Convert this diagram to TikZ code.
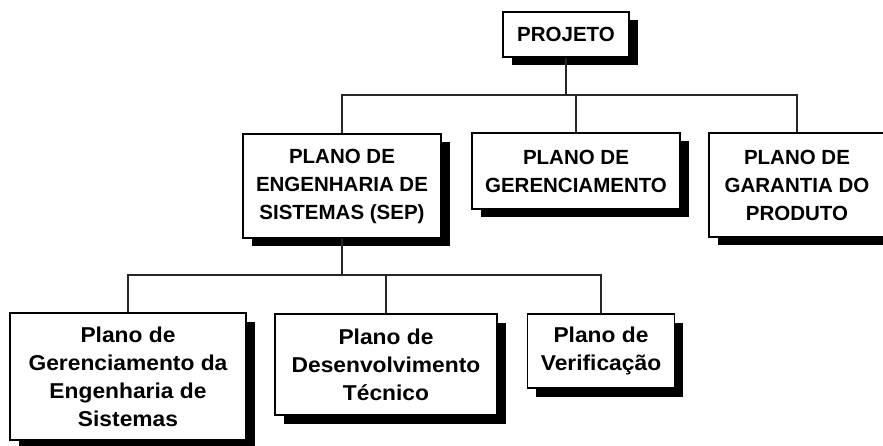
\documentclass[tikz,border=0pt]{standalone}
\usepackage{fontspec}
\setmainfont{Liberation Sans}
\newfontfamily\lowfont[FakeStretch=1.06]{Liberation Sans}
\usetikzlibrary{shadows}
\tikzset{
  box/.style={draw=black, line width=1.3pt, fill=white, inner sep=0pt, align=center,
    text=black, font=\bfseries\fontsize{20.5}{28}\selectfont,
    drop shadow={shadow xshift=8.5pt, shadow yshift=-8.5pt, fill=black, opacity=1}},
  lowbox/.style={box, font=\lowfont\bfseries\fontsize{21.5}{28}\selectfont},
  conn/.style={line width=1.3pt, draw=black!85}
}
\begin{document}
\begin{tikzpicture}[x=1pt,y=-1pt]
\useasboundingbox (0,0) rectangle (883,446);
\clip (0,0) rectangle (883,446);
\node[box, minimum width=126pt, minimum height=45pt] (proj) at (566,34.5) {PROJETO};
\node[box, minimum width=198pt, minimum height=104pt] (sep) at (342,186) {PLANO DE\\ENGENHARIA DE\\SISTEMAS (SEP)};
\node[box, minimum width=208pt, minimum height=76pt] (ger) at (576,171) {PLANO DE\\GERENCIAMENTO};
\node[box, minimum width=176pt, minimum height=104pt] (gar) at (797,185) {PLANO DE\\GARANTIA DO\\PRODUTO};
\node[lowbox, minimum width=236pt, minimum height=127pt] (p1) at (128,376.5) {Plano de\\Gerenciamento da\\Engenharia de\\Sistemas};
\node[lowbox, minimum width=222pt, minimum height=101pt] (p2) at (386,364.5) {Plano de\\Desenvolvimento\\Técnico};
\node[lowbox, minimum width=147pt, minimum height=74pt] (p3) at (601,351) {Plano de\\Verificação};
\coordinate (b1) at (566,95);
\coordinate (b2) at (342,275);
\draw[conn] (proj.south) -- (b1);
\draw[conn] (sep.north) |- (gar.north |- b1) -- (gar.north);
\draw[conn] (ger.north) -- (ger.north |- b1);
\draw[conn] (sep.south) -- (b2);
\draw[conn] (p1.north) |- (p3.north |- b2) -- (p3.north);
\draw[conn] (p2.north) -- (p2.north |- b2);
\end{tikzpicture}
\end{document}
